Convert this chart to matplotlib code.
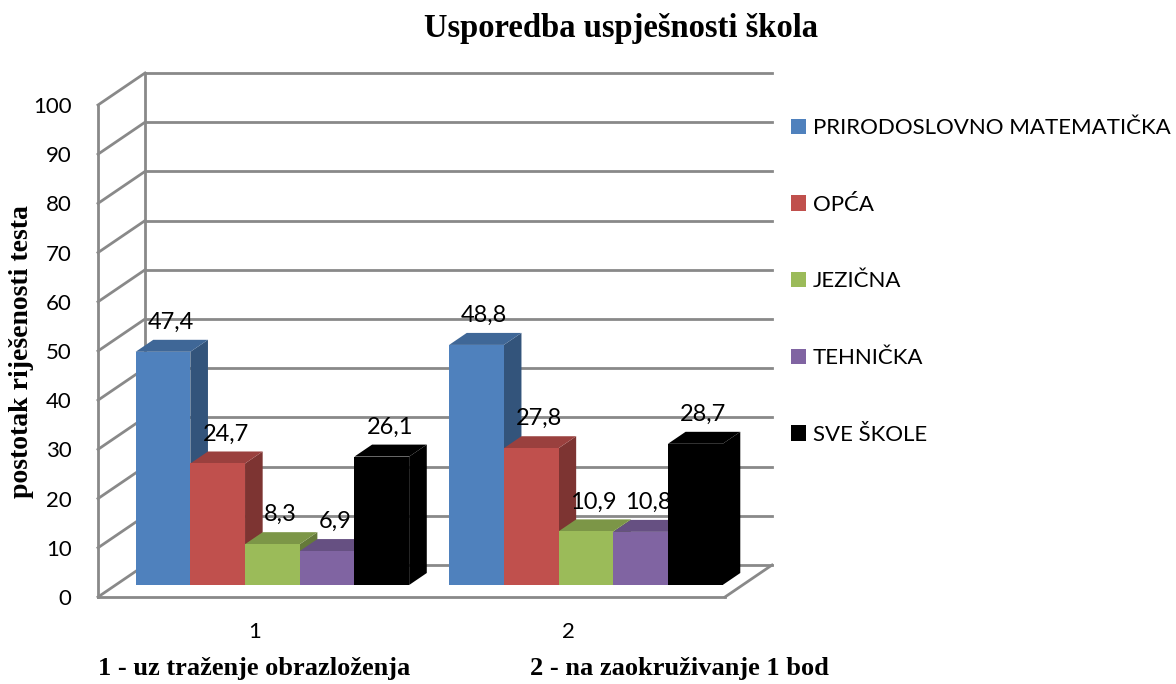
import matplotlib
matplotlib.use("Agg")
import matplotlib.pyplot as plt
from matplotlib.patches import Polygon, Patch

categories = ["1", "2"]
series = ["PRIRODOSLOVNO MATEMATIČKA", "OPĆA", "JEZIČNA", "TEHNIČKA", "SVE ŠKOLE"]
values = [
    [47.4, 48.8],
    [24.7, 27.8],
    [8.3, 10.9],
    [6.9, 10.8],
    [26.1, 28.7],
]
colors = ["#4F81BD", "#C0504D", "#9BBB59", "#8064A2", "#000000"]
yticks = list(range(0, 101, 10))
title = "Usporedba uspješnosti škola"
ylabel = "postotak riješenosti testa"
note1 = "1 - uz traženje obrazloženja"
note2 = "2 - na zaokruživanje 1 bod"

grid_col = "#898989"
sans = ["Lato", "DejaVu Sans"]
serif = ["Liberation Serif", "DejaVu Serif"]

# depth of the 3d box in data units (x, y)
DX, DY = 0.15, 6.5
F0, F1 = 0.375, 0.75   # front / back plane of the bars
bar_w = 0.1745


def shade(c, k):
    r, g, b = matplotlib.colors.to_rgb(c)
    return (r * k, g * k, b * k)


fig = plt.figure(figsize=(11.76, 6.84), dpi=100)
ax = fig.add_axes([98 / 1176, 1 - 597 / 684, 627 / 1176, 492 / 684])
ax.set_xlim(-0.5, 1.5)
ax.set_ylim(0, 100)
ax.set_facecolor("none")

# walls and floor
for v in yticks:
    ax.plot([-0.5, -0.5 + DX], [v, v + DY], color=grid_col, lw=2, clip_on=False, zorder=1)
    ax.plot([-0.5 + DX, 1.5 + DX], [v + DY, v + DY], color=grid_col, lw=2, clip_on=False, zorder=1)
ax.plot([-0.5 + DX, -0.5 + DX], [DY, 100 + DY], color=grid_col, lw=2, clip_on=False, zorder=1)
ax.plot([1.5, 1.5 + DX], [0, DY], color=grid_col, lw=2, clip_on=False, zorder=1)

for s in ["top", "right"]:
    ax.spines[s].set_visible(False)
for s in ["left", "bottom"]:
    ax.spines[s].set_color(grid_col)
    ax.spines[s].set_linewidth(2)

# bars
n = len(series)
for gi in range(len(categories)):
    for si in range(n):
        v = values[si][gi]
        x0 = gi - n * bar_w / 2 + si * bar_w + F0 * DX
        x1 = x0 + bar_w
        y0 = F0 * DY
        y1 = y0 + v
        ddx, ddy = (F1 - F0) * DX, (F1 - F0) * DY
        c = colors[si]
        z = 3 + si
        front = Polygon([(x0, y0), (x1, y0), (x1, y1), (x0, y1)], closed=True,
                        fc=c, ec="none", zorder=z, clip_on=False)
        side = Polygon([(x1, y0), (x1 + ddx, y0 + ddy), (x1 + ddx, y1 + ddy), (x1, y1)],
                       closed=True, fc=shade(c, 0.65), ec="none", zorder=z, clip_on=False)
        top = Polygon([(x0, y1), (x1, y1), (x1 + ddx, y1 + ddy), (x0 + ddx, y1 + ddy)],
                      closed=True, fc=shade(c, 0.8), ec="none", zorder=z, clip_on=False)
        for p in (side, top, front):
            ax.add_patch(p)
        ax.text((x0 + x1) / 2 + 0.025, y1 + 6.0, f"{v:.1f}".replace(".", ","),
                ha="center", va="center", fontsize=17, family=sans, zorder=20)

ax.set_yticks(yticks)
ax.set_yticklabels([str(t) for t in yticks], fontsize=16, family=sans)
ax.set_xticks(range(len(categories)))
ax.set_xticklabels(categories, fontsize=16, family=sans)
ax.tick_params(axis="y", length=0, pad=19)
ax.tick_params(axis="x", length=0, pad=18)

fig.text(621 / 1176, 1 - 28 / 684, title, ha="center", va="center",
         fontsize=23.5, fontweight="bold", family=serif)
fig.text(22 / 1176, 1 - 352 / 684, ylabel, ha="center", va="center", rotation=90,
         fontsize=20, fontweight="bold", family=serif)
fig.text(98 / 1176, 1 - 668 / 684, note1, ha="left", va="center",
         fontsize=19, fontweight="bold", family=serif)
fig.text(530 / 1176, 1 - 668 / 684, note2, ha="left", va="center",
         fontsize=19, fontweight="bold", family=serif)

handles = [Patch(fc=c, ec="none") for c in colors]
fig.legend(handles, series, loc="upper left", bbox_to_anchor=(780 / 1176, 1 - 107 / 684),
           frameon=False, prop={"family": sans, "size": 16}, handlelength=0.68,
           handleheight=0.68, handletextpad=0.3, labelspacing=2.55, borderpad=0)

fig.savefig("out.png", dpi=100)
